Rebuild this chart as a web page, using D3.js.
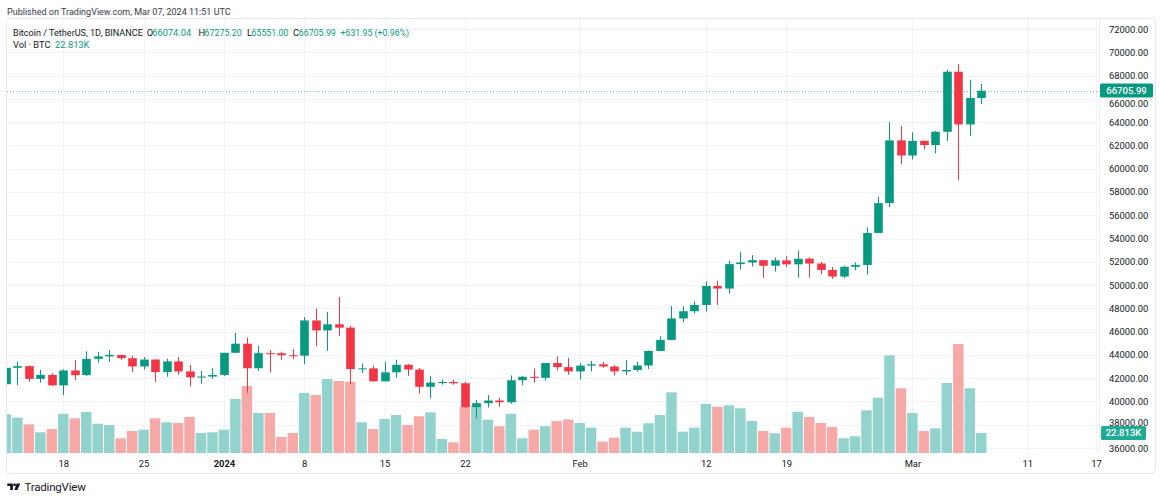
<!DOCTYPE html>
<html><head><meta charset="utf-8">
<script src="https://cdn.jsdelivr.net/npm/d3@7/dist/d3.min.js"></script>
<style>
body{margin:0;background:#fff}
svg{display:block}
text{font-family:Roboto,"Liberation Sans",Arial,sans-serif}
</style>
</head><body>
<svg id="chart" width="1160" height="500"></svg>
<script>
// ---------------- DATA ----------------
const firstDay = "2023-12-13";
const lastDay = "2024-03-07";
const opens  = [41480,42890,43030,41940,42280,41380,42660,42260,43660,43870,43990,43720,43010,43600,42520,43440,42580,42070,42140,42280,
                44180,44960,42850,44150,44140,43970,43930,46960,46100,46630,46340,42780,42840,41730,42500,43150,42740,41260,41620,41670,
                41560,39510,39850,40080,39930,41820,42120,42030,43300,42950,42580,43080,43190,43000,42580,42700,43090,44340,45290,47130,
                47750,48290,49920,49700,51800,51940,52140,51660,52120,51780,52260,51850,51300,50730,51570,51730,54480,57040,62430,61130,
                62390,62030,63170,68330,63800,66074.04];
const highs  = [43400,43430,43090,42710,42430,42760,43550,44290,44240,44400,44020,43940,43800,43610,43680,43800,43120,42620,42860,44180,
                45880,45500,44780,44420,44260,44500,47250,47970,47700,48970,46500,43260,43080,43400,43580,43200,42880,42200,41870,41880,
                41690,40130,40560,40300,42230,42200,42840,43310,43880,43750,43290,43480,43380,43120,43550,43420,44370,45600,48200,48170,
                48590,50330,50370,52080,52820,52570,52160,52370,52490,52980,52370,52000,51550,51680,51950,54940,57590,64000,63680,63120,
                62430,63230,68500,69000,67640,67275.20];
const lows   = [40660,41420,41710,41620,41340,40540,41830,42180,43330,43400,43580,42540,42740,41680,42120,42300,41300,41520,41960,42180,
                44150,40750,42630,42480,43560,43640,43200,44750,44350,45610,41500,42440,41720,41720,42050,42200,40680,40280,41450,41450,
                39430,38550,39480,39550,39800,41400,41620,41800,42680,42280,41880,42580,42880,42220,42260,42570,42790,44330,45250,46800,
                47550,47720,48300,49270,51320,51580,50620,51160,51530,50630,50630,50920,50530,50590,51280,50900,54450,56690,60370,60790,
                61660,61320,62380,59010,62800,65551.00];
const closes = [42890,43030,41940,42280,41380,42660,42260,43660,43870,43990,43720,43010,43600,42520,43440,42580,42070,42140,42280,44180,
                44960,42850,44150,44140,43970,43930,46960,46100,46630,46340,42780,42840,41730,42500,43150,42740,41260,41620,41670,41560,
                39510,39850,40080,39930,41820,42120,42030,43300,42950,42580,43080,43190,43000,42580,42700,43090,44340,45290,47130,47750,
                48290,49920,49700,51800,51940,52140,51660,52120,51780,52260,51850,51300,50730,51570,51730,54480,57040,62430,61130,62390,
                62030,63170,68330,63800,66074.04,66705.99];
// volume in thousands of BTC
const volumes = [44.1,40.3,32.7,23.6,27.4,44.8,39.6,46.8,33.4,31.9,16.8,25.1,26.6,39.6,35.0,34.2,41.1,22.8,23.6,26.6,
                 61.6,76.4,45.6,45.6,18.3,22.8,68.4,66.2,84.4,82.1,81.3,35.0,27.4,38.8,43.3,31.9,41.9,46.4,16.0,12.2,
                 52.8,54.4,38.0,30.5,44.8,16.8,26.6,30.5,36.5,38.2,34.2,28.9,12.9,17.5,28.9,24.3,33.9,43.3,69.2,24.3,
                 28.9,55.9,52.8,54.4,51.0,36.5,25.1,22.5,28.9,47.1,41.1,34.2,29.7,16.8,19.0,48.7,63.1,111.4,73.8,45.6,
                 25.1,28.2,79.8,124.3,73.8,22.813];
const priceTicks = [36000,38000,40000,42000,44000,46000,48000,50000,52000,54000,56000,58000,60000,62000,64000,66000,68000,70000,72000];
const timeTickDates  = ["2023-12-18","2023-12-25","2024-01-01","2024-01-08","2024-01-15","2024-01-22","2024-02-01","2024-02-12","2024-02-19","2024-03-01","2024-03-11","2024-03-17"];
const timeTickLabels = ["18","25","2024","8","15","22","Feb","12","19","Mar","11","17"];
const headerText = "Published on TradingView.com, Mar 07, 2024 11:51 UTC";
const symbolText = "Bitcoin / TetherUS, 1D, BINANCE";
const volText = "Vol · BTC";

// ---------------- LAYOUT ----------------
const W = 1160, H = 500;
const plot = {l: 7, r: 1099, t: 19, b: 453};
const UP = "#089981", DOWN = "#f23645";
const UPV = "#92d3cd", DOWNV = "#f7a9a8";
const GRID = "#f0f3fa";
const TXT = "#131722";

const parse = d3.utcParse("%Y-%m-%d");
const days = d3.utcDay.range(parse(firstDay), d3.utcDay.offset(parse(lastDay), 1));
const data = days.map((d, i) => ({date: d, o: opens[i], h: highs[i], l: lows[i], c: closes[i], v: volumes[i]}));

const x = d3.scaleUtc().domain([parse("2023-12-18"), parse("2024-03-17")]).range([63.3, 1096]);
const y = d3.scaleLinear().domain([36000, 72000]).range([448, 29]);
const yv = d3.scaleLinear().domain([0, 130]).range([plot.b, plot.b - 114]);
const step = x(parse("2024-01-02")) - x(parse("2024-01-01"));
const bodyW = step * 0.75;
const volW = step - 1;

const svg = d3.select("#chart");
svg.append("rect").attr("width", W).attr("height", H).attr("fill", "#fff");

// frame
svg.append("rect").attr("x", 6.5).attr("y", 18.5).attr("width", 1149).attr("height", 455)
  .attr("rx", 4).attr("fill", "none").attr("stroke", "#e6e9ef");

svg.append("defs").append("clipPath").attr("id", "clip")
  .append("rect").attr("x", plot.l).attr("y", plot.t).attr("width", plot.r - plot.l).attr("height", plot.b - plot.t);

// grid
const grid = svg.append("g");
grid.selectAll("line.h").data(priceTicks).join("line")
  .attr("x1", plot.l).attr("x2", plot.r)
  .attr("y1", d => Math.round(y(d)) + 0.5).attr("y2", d => Math.round(y(d)) + 0.5)
  .attr("stroke", GRID);
grid.selectAll("line.v").data(timeTickDates).join("line")
  .attr("x1", d => Math.round(x(parse(d))) + 0.5).attr("x2", d => Math.round(x(parse(d))) + 0.5)
  .attr("y1", plot.t).attr("y2", plot.b)
  .attr("stroke", GRID);

// price axis separator
svg.append("line").attr("x1", plot.r + 0.5).attr("x2", plot.r + 0.5).attr("y1", plot.t).attr("y2", plot.b)
  .attr("stroke", "#eef0f4");

const g = svg.append("g").attr("clip-path", "url(#clip)");

// volume bars
g.selectAll("rect.vol").data(data).join("rect")
  .attr("x", d => x(d.date) - volW / 2)
  .attr("width", volW)
  .attr("y", d => yv(d.v))
  .attr("height", d => yv(0) - yv(d.v))
  .attr("fill", d => d.c >= d.o ? UPV : DOWNV);

// candles
const cg = g.selectAll("g.candle").data(data).join("g");
cg.append("line")
  .attr("x1", d => Math.round(x(d.date)) + 0.5).attr("x2", d => Math.round(x(d.date)) + 0.5)
  .attr("y1", d => y(d.h)).attr("y2", d => y(d.l))
  .attr("stroke", d => d.c >= d.o ? UP : DOWN).attr("stroke-width", 1);
cg.append("rect")
  .attr("x", d => Math.round(x(d.date)) + 0.5 - bodyW / 2)
  .attr("width", bodyW)
  .attr("y", d => y(Math.max(d.o, d.c)))
  .attr("height", d => Math.max(1, Math.abs(y(d.o) - y(d.c))))
  .attr("fill", d => d.c >= d.o ? UP : DOWN);

// last price dotted line
const last = data[data.length - 1];
svg.append("line").attr("x1", plot.l).attr("x2", plot.r)
  .attr("y1", Math.round(y(last.c)) + 0.5).attr("y2", Math.round(y(last.c)) + 0.5)
  .attr("stroke", UP).attr("stroke-opacity", 0.55).attr("stroke-dasharray", "1,2");

// price axis
const fmt = d3.format(".2f");
const pa = svg.append("g").attr("transform", `translate(${plot.r},0)`)
  .call(d3.axisRight(y).tickValues(priceTicks).tickFormat(fmt).tickSize(0).tickPadding(10));
pa.select(".domain").remove();
pa.selectAll("text").attr("font-size", 9.4).attr("fill", TXT)
  .attr("font-family", "Roboto, sans-serif");
// TradingView nudges labels that collide with the overlay badges
pa.selectAll(".tick").filter(d => d === 38000).select("text").attr("dy", "0.05em");
pa.selectAll(".tick").filter(d => d === 66000).select("text").attr("dy", "0.85em");

// time axis
const ta = svg.append("g").attr("transform", `translate(0,${plot.b})`)
  .call(d3.axisBottom(x).tickValues(timeTickDates.map(parse)).tickFormat((d, i) => timeTickLabels[i]).tickSize(0).tickPadding(7));
ta.select(".domain").remove();
ta.selectAll("text").attr("font-size", 9.4).attr("fill", TXT).attr("font-family", "Roboto, sans-serif")
  .attr("font-weight", (d, i) => timeTickLabels[i] === "2024" ? "bold" : null);

// last price label
const ly = y(last.c);
svg.append("rect").attr("x", 1100).attr("y", ly - 7).attr("width", 53).attr("height", 14).attr("rx", 1.5).attr("fill", UP);
svg.append("text").attr("x", 1126.5).attr("y", ly).attr("dy", "0.35em").attr("text-anchor", "middle")
  .attr("font-size", 9.5).attr("font-weight", 500).attr("fill", "#fff").text(fmt(last.c));

// volume label
const vy = yv(last.v);
svg.append("rect").attr("x", 1101).attr("y", vy - 7).attr("width", 45).attr("height", 14).attr("rx", 1.5).attr("fill", "#22ab94");
svg.append("text").attr("x", 1123.5).attr("y", vy).attr("dy", "0.35em").attr("text-anchor", "middle")
  .attr("font-size", 9.5).attr("font-weight", 500).attr("fill", "#fff").text(d3.format(".3f")(last.v) + "K");

// header texts
function fit(sel, w) {
  const fs = parseFloat(sel.attr("font-size"));
  const len = sel.node().getComputedTextLength();
  sel.attr("font-size", (fs * w / len).toFixed(2));
  return sel;
}
fit(svg.append("text").attr("x", 7).attr("y", 14.5).attr("font-size", 10).attr("fill", "#363a45").text(headerText), 224);

const prev = data[data.length - 2];
const chg = last.c - prev.c;
const pct = chg / prev.c * 100;
const parts = [
  {t: symbolText, x: 13, c: TXT, w: 130},
  {t: "O", x: 146.7, c: TXT}, {t: fmt(last.o), x: 152.2, c: UP, w: 40},
  {t: "H", x: 198.6, c: TXT}, {t: fmt(last.h), x: 204.6, c: UP, w: 37},
  {t: "L", x: 247, c: TXT}, {t: fmt(last.l), x: 251.5, c: UP, w: 37},
  {t: "C", x: 293, c: TXT}, {t: fmt(last.c), x: 298.8, c: UP, w: 37},
  {t: `${chg >= 0 ? "+" : ""}${fmt(chg)} (${pct >= 0 ? "+" : ""}${fmt(pct)}%)`, x: 340.5, c: UP, w: 68.5}
];
const lg = svg.append("g");
parts.forEach(p => {
  const t = lg.append("text").attr("x", p.x).attr("y", 35.5).attr("font-size", 9.3).attr("fill", p.c).text(p.t);
  if (p.w) {
    const len = t.node().getComputedTextLength();
    if (len > p.w) t.attr("font-size", (9.3 * p.w / len).toFixed(2));
  }
});
svg.append("text").attr("x", 13).attr("y", 48).attr("font-size", 9.3).attr("fill", TXT).text(volText);
svg.append("text").attr("x", 55).attr("y", 48).attr("font-size", 9.3).attr("fill", UP).text(d3.format(".3f")(last.v) + "K");

// TradingView logo
const logo = svg.append("g").attr("fill", TXT);
logo.append("path").attr("d", "M7.3,483.4 h5.6 v6.6 h-2.7 v-4 h-2.9 z");
logo.append("circle").attr("cx", 14.6).attr("cy", 484.8).attr("r", 1.4);
logo.append("path").attr("d", "M16.6,483.4 h3.6 l-2.8,6.6 h-3 z");
svg.append("text").attr("x", 24.5).attr("y", 491).attr("font-size", 11.5).attr("fill", TXT)
  .attr("letter-spacing", -0.2).text("TradingView");
</script>
</body></html>
